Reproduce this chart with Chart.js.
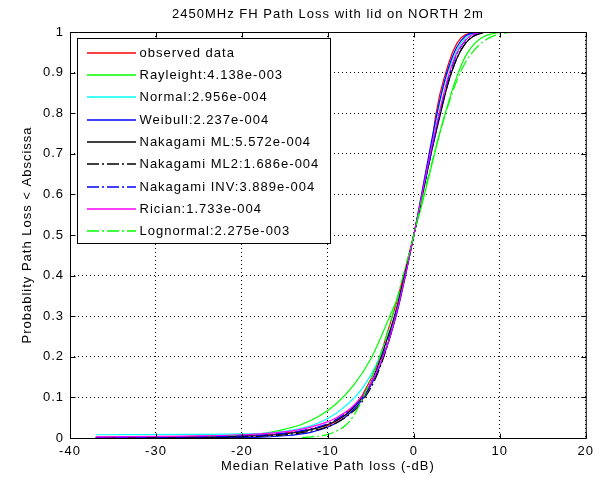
<!DOCTYPE html>
<html>
<head>
<meta charset="utf-8">
<script src="https://cdn.jsdelivr.net/npm/chart.js@4.4.1/dist/chart.umd.min.js"></script>
<style>
  html, body { margin: 0; padding: 0; background: #fff; }
  #wrap { width: 600px; height: 483px; }
</style>
</head>
<body>
<div id="wrap"><canvas id="myChart" width="600" height="483"></canvas></div>
<script>
const xTickLabels = ["-40", "-30", "-20", "-10", "0", "10", "20"];
const yTickLabels = ["0", "0.1", "0.2", "0.3", "0.4", "0.5", "0.6", "0.7", "0.8", "0.9", "1"];

const fitNames = ["observed data", "Rayleight", "Normal", "Weibull", "Nakagami ML", "Nakagami ML2", "Nakagami INV", "Rician", "Lognormal"];
const fitErrors = ["", "4.138e-003", "2.956e-004", "2.237e-004", "5.572e-004", "1.686e-004", "3.889e-004", "1.733e-004", "2.275e-003"];

// observed CDF (median relative path loss, dB)
const obsX = [-37, -30, -25, -20, -17, -15, -13, -11.5, -10, -9, -8, -7, -6, -5, -4, -3, -2, -1, 0, 1, 2, 2.5, 3, 3.5, 4, 4.5, 5, 5.5, 6, 7, 8];
const obsY = [0.002, 0.003, 0.004, 0.006, 0.008, 0.012, 0.017, 0.024, 0.031, 0.042, 0.056, 0.077, 0.105, 0.145, 0.195, 0.265, 0.335, 0.415, 0.5, 0.6, 0.71, 0.79, 0.845, 0.885, 0.92, 0.95, 0.972, 0.986, 0.994, 0.999, 1];

const rayX = [-30, -25, -20, -17, -15, -13, -11, -9, -7, -5, -3, -1, 0, 1, 2, 3, 4, 5, 6, 7, 8, 9, 10, 11];
const rayY = [0.001, 0.002, 0.007, 0.013, 0.022, 0.034, 0.054, 0.085, 0.13, 0.195, 0.29, 0.4, 0.5, 0.58, 0.665, 0.75, 0.825, 0.89, 0.94, 0.97, 0.987, 0.995, 0.999, 1];

const normX = [-37, -25, -20, -17, -14, -12, -10, -8, -6, -4, -2, 0, 1, 2, 3, 4, 5, 6, 7, 8];
const normY = [0.008, 0.009, 0.01, 0.012, 0.02, 0.03, 0.048, 0.078, 0.122, 0.198, 0.318, 0.5, 0.61, 0.72, 0.825, 0.905, 0.955, 0.985, 0.996, 1];

const weibX = [-37, -20, -15, -12, -10, -8, -6, -4, -2, 0, 1, 2, 3, 4, 5, 6, 7, 8];
const weibY = [0.0003, 0.001, 0.0055, 0.014, 0.027, 0.051, 0.095, 0.174, 0.305, 0.5, 0.612, 0.725, 0.83, 0.91, 0.963, 0.99, 0.998, 1];

const nakMlX = [-37, -25, -20, -16, -13, -11, -9, -7, -5, -3, -2, -1, 0, 1, 2, 3, 4, 5, 6, 7, 8];
const nakMlY = [0.001, 0.002, 0.004, 0.008, 0.016, 0.026, 0.043, 0.075, 0.135, 0.25, 0.32, 0.41, 0.5, 0.6, 0.7, 0.79, 0.875, 0.935, 0.972, 0.991, 0.999];

const nakMl2X = [-30, -20, -15, -12, -10, -8, -6, -4, -2, 0, 2, 3, 4, 5, 6, 7, 8, 9];
const nakMl2Y = [0.001, 0.003, 0.008, 0.017, 0.028, 0.05, 0.09, 0.17, 0.31, 0.5, 0.7, 0.795, 0.875, 0.935, 0.972, 0.99, 0.998, 1];

const nakInvX = [-37, -25, -20, -16, -13, -11, -9, -7, -5, -3, -2, -1, 0, 1, 2, 3, 4, 5, 6, 7, 8];
const nakInvY = [0.001, 0.003, 0.005, 0.01, 0.018, 0.028, 0.046, 0.078, 0.135, 0.24, 0.315, 0.405, 0.5, 0.6, 0.7, 0.8, 0.885, 0.945, 0.979, 0.994, 1];

const ricX = [-37, -25, -20, -16, -13, -11, -9, -7, -5, -3, -2, -1, 0, 1, 2, 3, 4, 5, 6, 7, 8];
const ricY = [0.003, 0.005, 0.008, 0.013, 0.022, 0.033, 0.05, 0.08, 0.135, 0.235, 0.31, 0.4, 0.5, 0.605, 0.71, 0.805, 0.89, 0.948, 0.98, 0.995, 1];

const logX = [-13, -11, -10, -9, -8, -7, -6, -5, -4, -3, -2, -1, 0, 1, 2, 3, 4, 5, 6, 7, 8, 9, 10, 11];
const logY = [0.001, 0.005, 0.009, 0.017, 0.03, 0.055, 0.095, 0.145, 0.2, 0.265, 0.34, 0.42, 0.5, 0.59, 0.67, 0.75, 0.82, 0.88, 0.925, 0.955, 0.975, 0.988, 0.995, 0.999];

const seriesX = [obsX, rayX, normX, weibX, nakMlX, nakMl2X, nakInvX, ricX, logX];
const seriesY = [obsY, rayY, normY, weibY, nakMlY, nakMl2Y, nakInvY, ricY, logY];

const dashDot = [12, 3, 2, 3];
const styles = [
  { color: "#ff0000", dash: [] },
  { color: "#00ff00", dash: [] },
  { color: "#00ffff", dash: [] },
  { color: "#0000ff", dash: [] },
  { color: "#000000", dash: [] },
  { color: "#000000", dash: dashDot },
  { color: "#0000ff", dash: dashDot },
  { color: "#ff00ff", dash: [] },
  { color: "#00ff00", dash: dashDot },
];

const legendLabels = fitNames.map((n, i) => (fitErrors[i] ? n + ":" + fitErrors[i] : n));

const datasets = fitNames.map((name, i) => ({
  label: legendLabels[i],
  data: seriesX[i].map((x, k) => ({ x: x, y: seriesY[i][k] })),
  showLine: true,
  borderColor: styles[i].color,
  backgroundColor: styles[i].color,
  borderDash: styles[i].dash,
  borderWidth: 1.2,
  pointRadius: 0,
  cubicInterpolationMode: i === 0 ? "default" : "monotone",
  tension: 0,
  // later series sit on top, like the plotting order
  order: fitNames.length - i,
}));

// text is drawn a touch wider than plain Arial
const textSpacing = {
  id: "textSpacing",
  beforeUpdate(chart) { chart.ctx.letterSpacing = "1px"; },
  beforeDraw(chart) { chart.ctx.letterSpacing = "1px"; },
};

// box around the axes with inward tick marks
const axesBox = {
  id: "axesBox",
  afterDatasetsDraw(chart) {
    const { ctx, chartArea: a, scales } = chart;
    const l = a.left + 0.5, r = a.right + 0.5, t = a.top + 0.5, b = a.bottom + 0.5;
    ctx.save();
    ctx.strokeStyle = "#000";
    ctx.lineWidth = 1;
    ctx.setLineDash([]);
    ctx.strokeRect(l, t, r - l, b - t);
    ctx.beginPath();
    scales.x.ticks.forEach((tk) => {
      const px = Math.round(scales.x.getPixelForValue(tk.value)) + 0.5;
      ctx.moveTo(px, b); ctx.lineTo(px, b - 5);
      ctx.moveTo(px, t); ctx.lineTo(px, t + 5);
    });
    scales.y.ticks.forEach((tk) => {
      const py = Math.round(scales.y.getPixelForValue(tk.value)) + 0.5;
      ctx.moveTo(l, py); ctx.lineTo(l + 5, py);
      ctx.moveTo(r, py); ctx.lineTo(r - 5, py);
    });
    ctx.stroke();
    ctx.restore();
  },
};

// boxed legend in the upper left of the plot
const boxLegend = {
  id: "boxLegend",
  afterDraw(chart) {
    const ctx = chart.ctx;
    const left = 77.5, top = 38.5, w = 253, h = 205;
    ctx.save();
    ctx.fillStyle = "#fff";
    ctx.fillRect(left, top, w, h);
    ctx.strokeStyle = "#000";
    ctx.lineWidth = 1;
    ctx.strokeRect(left, top, w, h);
    ctx.font = "13px 'Liberation Sans', Arial, sans-serif";
    ctx.textBaseline = "middle";
    ctx.textAlign = "left";
    ctx.letterSpacing = "1px";
    legendLabels.forEach((label, i) => {
      const y = Math.round(52.7 + i * 22.3);
      ctx.save();
      ctx.beginPath();
      ctx.lineWidth = 1.6;
      ctx.strokeStyle = styles[i].color;
      ctx.setLineDash(styles[i].dash);
      ctx.moveTo(87, y);
      ctx.lineTo(136, y);
      ctx.stroke();
      ctx.restore();
      ctx.fillStyle = "#000";
      ctx.fillText(label, 139.5, y + 0.5);
    });
    ctx.restore();
  },
};

Chart.defaults.font.family = "'Liberation Sans', Arial, sans-serif";
Chart.defaults.font.size = 13;
Chart.defaults.color = "#000";

const ctx = document.getElementById("myChart");
const myChart = new Chart(ctx, {
  type: "scatter",
  data: { datasets: datasets },
  options: {
    responsive: false,
    animation: false,
    layout: { padding: { top: 0, right: 12, bottom: 0, left: 0 } },
    plugins: {
      legend: { display: false },
      tooltip: { enabled: false },
      title: {
        display: true,
        text: "2450MHz FH Path Loss with lid on NORTH 2m",
        fullSize: false,
        font: { size: 13, weight: "normal" },
        color: "#000",
        padding: { top: 6.5, bottom: 9.9 },
      },
    },
    scales: {
      x: {
        type: "linear",
        min: -40,
        max: 20,
        afterFit(scale) { scale.height = 45; },
        ticks: {
          stepSize: 10,
          padding: 6,
          color: "#000",
          callback: (v, i) => xTickLabels[i],
        },
        grid: { color: "#000", lineWidth: 1, drawTicks: false },
        border: { display: false, dash: [1, 3] },
        title: {
          display: true,
          text: "Median Relative Path loss (-dB)",
          color: "#000",
          padding: { top: 0, bottom: 9.2 },
        },
      },
      y: {
        type: "linear",
        min: 0,
        max: 1,
        afterFit(scale) { scale.width = 70; },
        ticks: {
          stepSize: 0.1,
          padding: 6,
          color: "#000",
          callback: (v, i) => yTickLabels[i],
        },
        grid: { color: "#000", lineWidth: 1, drawTicks: false },
        border: { display: false, dash: [1, 3] },
        title: {
          display: true,
          text: "Probablity Path Loss < Abscissa",
          color: "#000",
          padding: { top: 20, bottom: 0 },
        },
      },
    },
  },
  plugins: [textSpacing, axesBox, boxLegend],
});
</script>
</body>
</html>
